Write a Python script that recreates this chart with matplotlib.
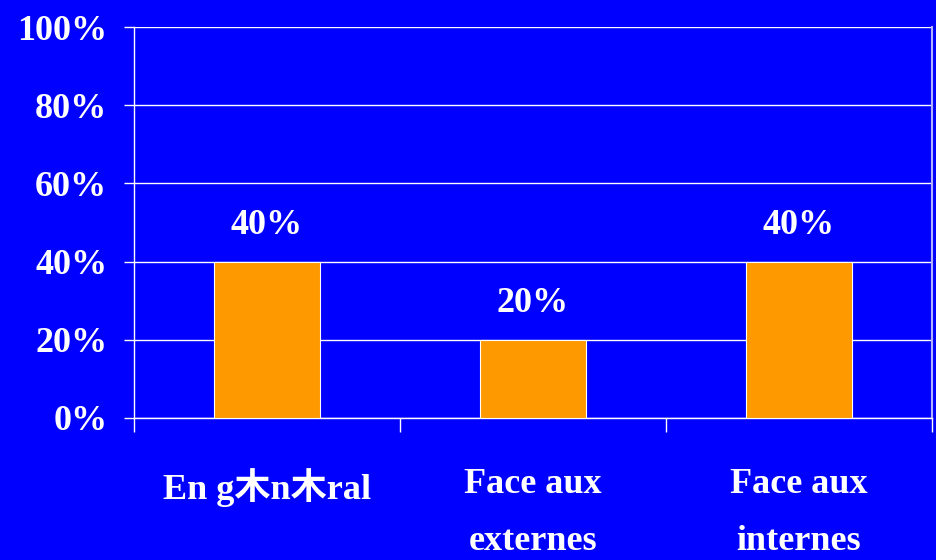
import matplotlib
matplotlib.use("Agg")
import matplotlib.pyplot as plt
from matplotlib.ticker import FixedLocator, FuncFormatter

categories = ["En g木n木ral", "Face aux\nexternes", "Face aux\ninternes"]
values = [40, 20, 40]
yticks = [0, 20, 40, 60, 80, 100]

BLUE = "#0000FF"
ORANGE = "#FF9900"
fam = ["Liberation Serif", "Noto Sans CJK SC", "DejaVu Serif"]
plt.rcParams["font.family"] = fam
plt.rcParams["font.weight"] = "bold"

fig = plt.figure(figsize=(9.36, 5.60), dpi=100, facecolor=BLUE)
ax = fig.add_axes([134/936, 1-418/560, (932-134)/936, (418-27)/560])
ax.set_facecolor(BLUE)

x = list(range(len(categories)))
bars = ax.bar(x, values, width=0.4, color=ORANGE, edgecolor="white", linewidth=0.8, zorder=3)

ax.set_xlim(-0.5, len(categories) - 0.5)
ax.set_ylim(0, 100)
ax.set_yticks(yticks)
ax.yaxis.set_major_formatter(FuncFormatter(lambda v, p: f"{int(v)}%"))
ax.grid(axis="y", color="white", linewidth=1, zorder=1)
ax.set_axisbelow(True)

ax.xaxis.set_major_locator(FixedLocator([i - 0.5 for i in range(len(categories) + 1)]))
ax.xaxis.set_major_formatter(FuncFormatter(lambda v, p: ""))
ax.xaxis.set_minor_locator(FixedLocator(x))
ax.set_xticklabels(categories, minor=True)
ax.tick_params(axis="x", which="minor", length=0, pad=36, labelsize=26, labelcolor="white")
ax.tick_params(axis="x", which="major", length=10, width=1, color="white", direction="out")
ax.tick_params(axis="y", length=7.2, width=1, color="white", direction="out", pad=12, labelsize=26, labelcolor="white")
for lab in ax.get_xticklabels(minor=True):
    lab.set_linespacing(1.95)

for s in ["left", "bottom"]:
    ax.spines[s].set_color("white")
    ax.spines[s].set_linewidth(1)
ax.spines["top"].set_visible(False)
ax.spines["right"].set_color("#B0B0FF")
ax.spines["right"].set_linewidth(1.5)

for b, v in zip(bars, values):
    ax.annotate(f"{v}%", (b.get_x() + b.get_width()/2, v), xytext=(0, 14),
                textcoords="offset points", ha="center", va="bottom",
                color="white", fontsize=26, fontweight="bold")

fig.savefig("out.png", dpi=100, facecolor=BLUE)
